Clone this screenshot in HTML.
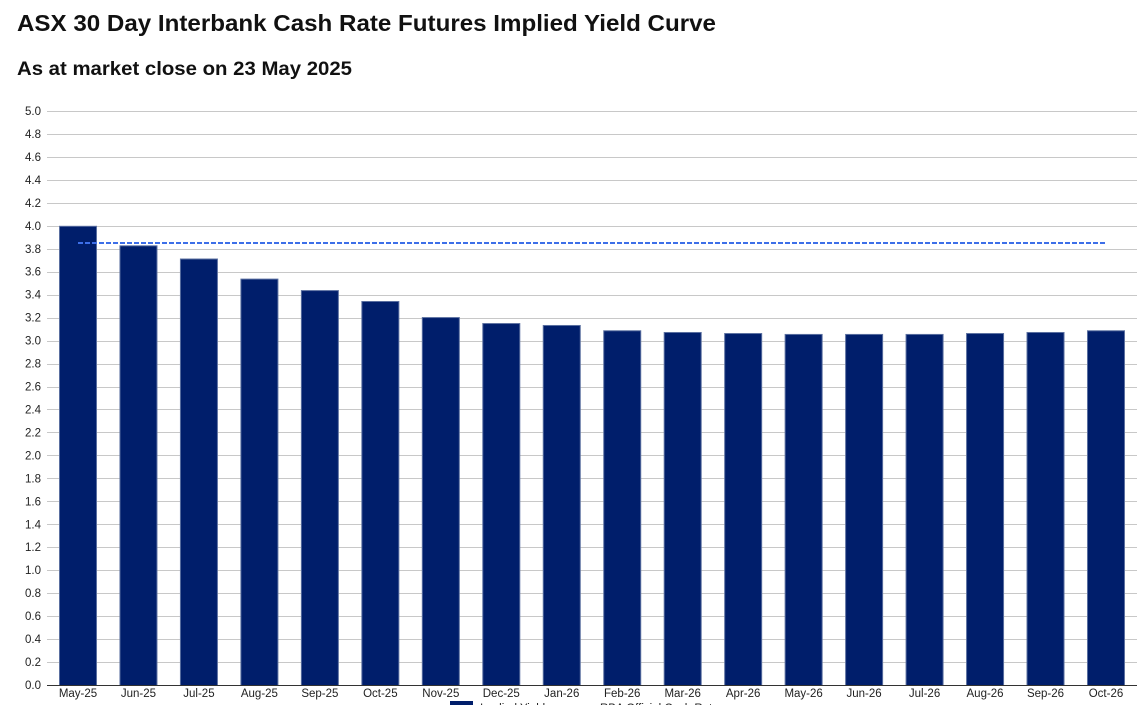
<!DOCTYPE html>
<html><head><meta charset="utf-8"><style>
body{margin:0;background:#fff;width:1146px;height:705px;overflow:hidden;font-family:"Liberation Sans",sans-serif}
</style></head><body>
<svg width="1146" height="705" xmlns="http://www.w3.org/2000/svg" font-family="Liberation Sans, sans-serif">
<text x="17" y="31" font-size="23.5" font-weight="bold" fill="#111" textLength="699" lengthAdjust="spacingAndGlyphs">ASX 30 Day Interbank Cash Rate Futures Implied Yield Curve</text>
<text x="17" y="75" font-size="19" font-weight="bold" fill="#111" textLength="335" lengthAdjust="spacingAndGlyphs">As at market close on 23 May 2025</text>
<g id="grid" stroke="#c8c8c8" stroke-width="1"></g>
<g id="ylab" font-size="11.5" fill="#222" text-anchor="end"></g>
<g id="bars"></g>
<line x1="47" y1="685.5" x2="1137" y2="685.5" stroke="#333" stroke-width="1"/>
<line x1="78" y1="243" x2="1106" y2="243" stroke="#3d6fe8" stroke-width="2" stroke-dasharray="5,2"/>
<g id="xlab" font-size="11.5" fill="#222" text-anchor="middle"></g>
<rect x="450" y="701" width="23" height="8" fill="#001e6b"/>
<text x="480" y="712" font-size="11.5" fill="#222">Implied Yield</text>
<text x="600" y="712" font-size="11.5" fill="#222">RBA Official Cash Rate</text>
</svg>
<script>
var ns="http://www.w3.org/2000/svg";
function el(t,a,p,txt){var e=document.createElementNS(ns,t);for(var k in a)e.setAttribute(k,a[k]);if(txt)e.textContent=txt;document.getElementById(p).appendChild(e);}
for(var i=0;i<=25;i++){var y=685-i*22.96;if(i>0)el("line",{x1:47,x2:1137,y1:Math.round(y)+0.5,y2:Math.round(y)+0.5},"grid");el("text",{x:41,y:y+4},"ylab",(i*0.2).toFixed(1));}
var v=[4.00,3.83,3.715,3.54,3.44,3.345,3.205,3.153,3.136,3.09,3.075,3.066,3.058,3.058,3.058,3.066,3.075,3.09];
var l=["May-25","Jun-25","Jul-25","Aug-25","Sep-25","Oct-25","Nov-25","Dec-25","Jan-26","Feb-26","Mar-26","Apr-26","May-26","Jun-26","Jul-26","Aug-26","Sep-26","Oct-26"];
for(var i=0;i<18;i++){var x=59+60.47*i,h=v[i]*114.8;el("rect",{x:x+0.5,y:685-h+0.5,width:37,height:h,fill:"#001e6b",stroke:"#5a6fa0","stroke-width":1},"bars");el("text",{x:x+19,y:697},"xlab",l[i]);}
</script>
</body></html>
